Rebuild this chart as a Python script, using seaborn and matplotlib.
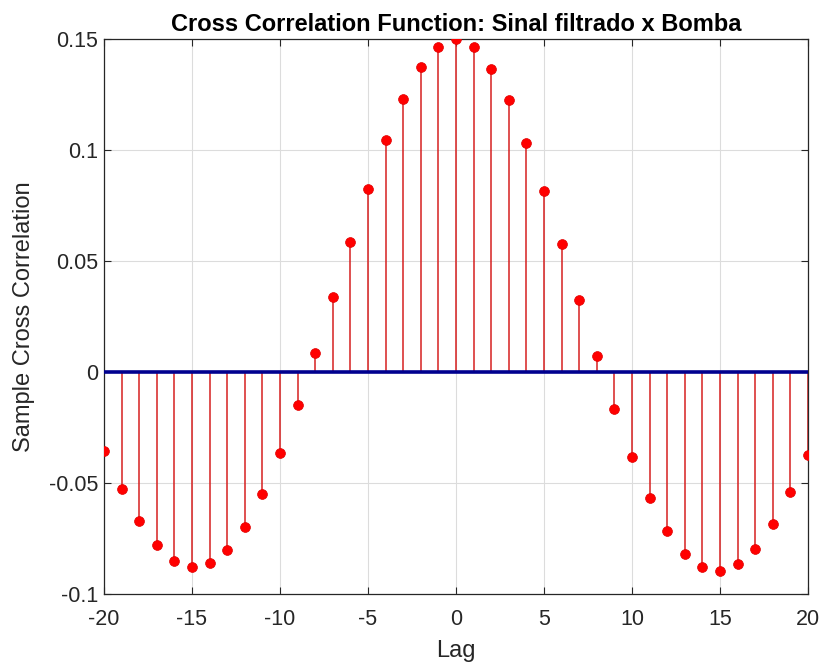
import matplotlib
matplotlib.use("Agg")
import matplotlib.pyplot as plt
import seaborn as sns
import numpy as np
import pandas as pd

lags = list(range(-20, 21))
xcf = [-0.0358, -0.0527, -0.0672, -0.0780, -0.0851, -0.0880, -0.0862, -0.0801,
       -0.0697, -0.0551, -0.0366, -0.0149, 0.0087, 0.0337, 0.0587, 0.0825,
       0.1044, 0.1229, 0.1372, 0.1465, 0.1501, 0.1465, 0.1366, 0.1223,
       0.1033, 0.0815, 0.0575, 0.0324, 0.0074, -0.0166, -0.0381, -0.0566,
       -0.0714, -0.0818, -0.0880, -0.0896, -0.0866, -0.0795, -0.0684,
       -0.0541, -0.0372]
xticks = [-20, -15, -10, -5, 0, 5, 10, 15, 20]
yticks = [-0.1, -0.05, 0, 0.05, 0.1, 0.15]
ytick_labels = ["-0.1", "-0.05", "0", "0.05", "0.1", "0.15"]

df = pd.DataFrame({"Lag": lags, "XCF": xcf})

sns.set_style("white")
plt.rcParams['font.family'] = ['Liberation Sans', 'DejaVu Sans']

fig = plt.figure(figsize=(8.22, 6.64), dpi=100)
ax = fig.add_axes([0.1265, 0.1054, 0.983 - 0.1265, 0.9413 - 0.1054])

ax.vlines(df["Lag"], 0, df["XCF"], color="#d62020", linewidth=1.1, zorder=2)
ax.axhline(0, color="#00008f", linewidth=2.6, zorder=3)
sns.scatterplot(data=df, x="Lag", y="XCF", ax=ax, color="#ff0000", s=50,
                edgecolor="#e00000", linewidth=0.5, zorder=4, legend=False)

ax.set_xlim(-20, 20)
ax.set_ylim(-0.1, 0.15)
ax.set_xticks(xticks)
ax.set_xticklabels([str(t) for t in xticks])
ax.set_yticks(yticks)
ax.set_yticklabels(ytick_labels)

ax.grid(True, color="#dcdcdc", linewidth=0.8)
ax.set_axisbelow(True)
for s in ax.spines.values():
    s.set_visible(True)
    s.set_color("#262626")
    s.set_linewidth(0.9)
ax.tick_params(axis="both", direction="in", length=5, width=0.8, color="#262626",
               labelsize=15.5, labelcolor="#262626", top=True, right=True,
               bottom=True, left=True)
ax.tick_params(axis="x", pad=11)
ax.tick_params(axis="y", pad=4)

ax.set_xlabel("Lag", fontsize=17, color="#262626", labelpad=7)
ax.set_ylabel("Sample Cross Correlation", fontsize=17, color="#262626", labelpad=10)
ax.set_title("Cross Correlation Function: Sinal filtrado x Bomba", fontsize=17,
             fontweight="bold", color="black", pad=6)

fig.savefig("out.png", dpi=100)
